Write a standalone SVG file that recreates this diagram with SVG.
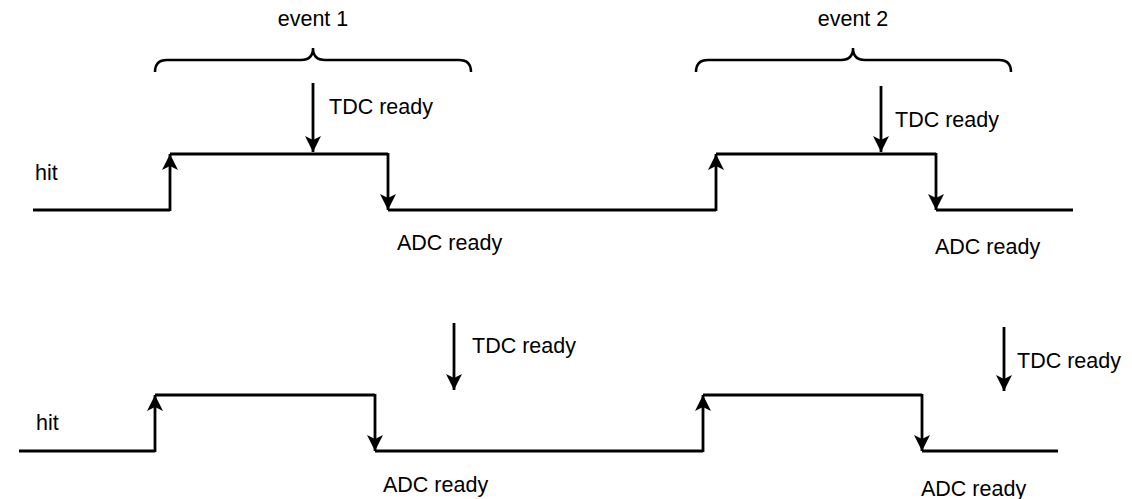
<svg xmlns="http://www.w3.org/2000/svg" width="1132" height="499" viewBox="0 0 1132 499">
<style>
.w{fill:none;stroke:#000;stroke-width:2.8;stroke-linejoin:miter}
.a{fill:none;stroke:#000;stroke-width:2.8;marker-end:url(#ah)}
.b{fill:none;stroke:#000;stroke-width:2.5}
text{font-family:"Liberation Sans",Arial,sans-serif;font-size:21.5px;fill:#000}
</style>
<defs>
<marker id="ah" markerUnits="userSpaceOnUse" markerWidth="20" markerHeight="20" refX="16" refY="8" orient="auto" viewBox="0 0 20 20">
<path d="M16,8 L0,0 L4,8 L0,16 Z" fill="#000"/>
</marker>
</defs>
<rect width="1132" height="499" fill="#fff"/>
<g id="labels">
<text x="313" y="26" text-anchor="middle">event 1</text>
<text x="853" y="26" text-anchor="middle">event 2</text>
<text x="35" y="180">hit</text>
<text x="36" y="430">hit</text>
</g>
<g id="brace1"><path class="b" d="M155,72 Q155,60 167,60 L301,60 Q313,60 313,48 Q313,60 325,60 L459,60 Q471,60 471,72"/></g>
<g id="brace2"><path class="b" d="M696,72 Q696,60 708,60 L841,60 Q853,60 853,48 Q853,60 865,60 L999,60 Q1011,60 1011,72"/></g>
<g id="wave-top">
<polyline class="w" points="33,210 170,210"/>
<polyline class="w" points="170,154 388,154"/>
<polyline class="w" points="388,210 716,210"/>
<polyline class="w" points="716,154 936,154"/>
<polyline class="w" points="936,210 1073,210"/>
</g>
<g id="wave-bottom">
<polyline class="w" points="19,451 155,451"/>
<polyline class="w" points="155,395 375,395"/>
<polyline class="w" points="375,451 703,451"/>
<polyline class="w" points="703,395 922,395"/>
<polyline class="w" points="922,451 1058,451"/>
</g>
<g id="connectors">
<path class="a" d="M170,211 V154"/>
<path class="a" d="M388,153 V210"/>
<path class="a" d="M716,211 V154"/>
<path class="a" d="M936,153 V210"/>
<path class="a" d="M313,83 V152"/>
<path class="a" d="M881,86 V152"/>
<path class="a" d="M155,452 V395"/>
<path class="a" d="M375,394 V451"/>
<path class="a" d="M703,452 V395"/>
<path class="a" d="M922,394 V451"/>
<path class="a" d="M454,323 V390"/>
<path class="a" d="M1004,327 V391"/>
</g>
<g id="events">
<text x="329" y="114">TDC ready</text>
<text x="895" y="127">TDC ready</text>
<text x="397" y="250">ADC ready</text>
<text x="935" y="254">ADC ready</text>
<text x="472" y="353">TDC ready</text>
<text x="1017" y="368">TDC ready</text>
<text x="383" y="492">ADC ready</text>
<text x="921" y="496">ADC ready</text>
</g>
</svg>
